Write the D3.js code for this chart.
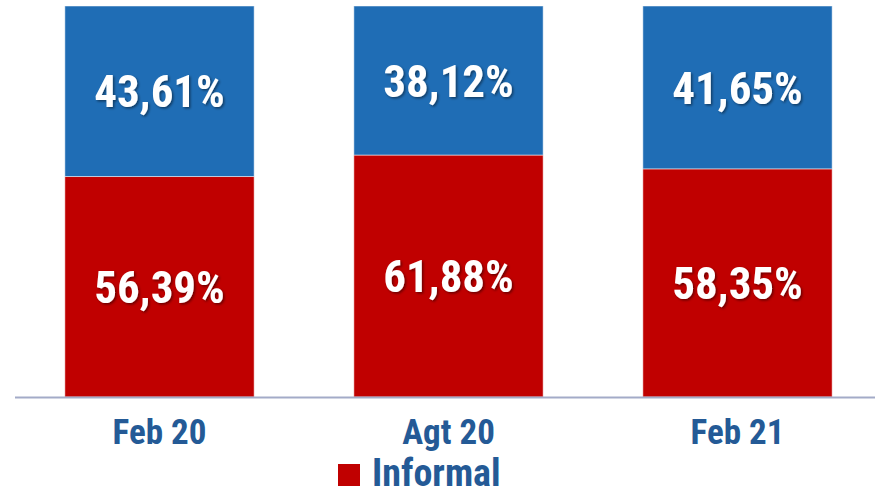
<!DOCTYPE html>
<html>
<head>
<meta charset="utf-8">
<script src="https://cdn.jsdelivr.net/npm/d3@7"></script>
<style>
html,body{margin:0;padding:0;background:#fff;}
svg{display:block;}
text{font-family:"Liberation Sans Narrow","Roboto Condensed","DejaVu Sans Condensed","Arial Narrow",sans-serif;font-weight:bold;}
</style>
</head>
<body>
<svg id="chart" width="875" height="492"></svg>
<script>
const categories = ["Feb 20", "Agt 20", "Feb 21"];
const informal = [56.39, 61.88, 58.35];
const formal = [43.61, 38.12, 41.65];
const seriesNames = ["Informal", "Formal"];
const colors = {Informal: "#c00000", Formal: "#1f6db5"};

const W = 875, H = 492;
const svg = d3.select("#chart");
const defs = svg.append("defs");
const f = defs.append("filter").attr("id","sh").attr("x","-10%").attr("y","-10%").attr("width","130%").attr("height","140%");
f.append("feDropShadow").attr("dx",1.5).attr("dy",1.5).attr("stdDeviation",1).attr("flood-color","#000").attr("flood-opacity",0.45);

const x = d3.scaleBand().domain(categories).range([15, 882]).paddingInner(0.345).paddingOuter(0.1725);
const y = d3.scaleLinear().domain([0, 100]).range([397, 6]);

const rows = categories.map((c, i) => ({cat: c, Informal: informal[i], Formal: formal[i]}));
const stack = d3.stack().keys(seriesNames)(rows);

const g = svg.append("g");
stack.forEach(layer => {
  g.selectAll(null).data(layer).enter().append("rect")
    .attr("x", d => x(d.data.cat))
    .attr("width", x.bandwidth())
    .attr("y", d => y(d[1]))
    .attr("height", d => y(d[0]) - y(d[1]))
    .attr("fill", colors[layer.key])
    .attr("stroke", "#ffffff").attr("stroke-opacity", 0.5).attr("stroke-width", 1);
  g.selectAll(null).data(layer).enter().append("text")
    .attr("x", d => x(d.data.cat) + x.bandwidth() / 2)
    .attr("y", d => (y(d[0]) + y(d[1])) / 2)
    .attr("dy", "0.36em")
    .attr("text-anchor", "middle")
    .attr("fill", "#fff")
    .attr("font-size", 45)
    .attr("filter", "url(#sh)")
    .text(d => (d[1] - d[0]).toFixed(2).replace(".", ",") + "%");
});

// axis
const axis = d3.axisBottom(x).tickSize(0).tickPadding(22);
const ax = svg.append("g").attr("transform", "translate(0,397)").call(axis);
ax.select(".domain").attr("stroke", "#a3abc8").attr("stroke-width", 2).attr("d", "M15,0.5H875");
ax.selectAll("text").attr("font-size", 35).attr("fill", "#245a96").attr("font-family", null);

// legend
const leg = svg.append("g").attr("transform", "translate(338,464)");
leg.append("rect").attr("width", 22).attr("height", 22).attr("fill", colors.Informal);
leg.append("text").attr("x", 34).attr("y", 22).attr("font-size", 38).attr("fill", "#245a96").text(seriesNames[0]);
</script>
</body>
</html>
